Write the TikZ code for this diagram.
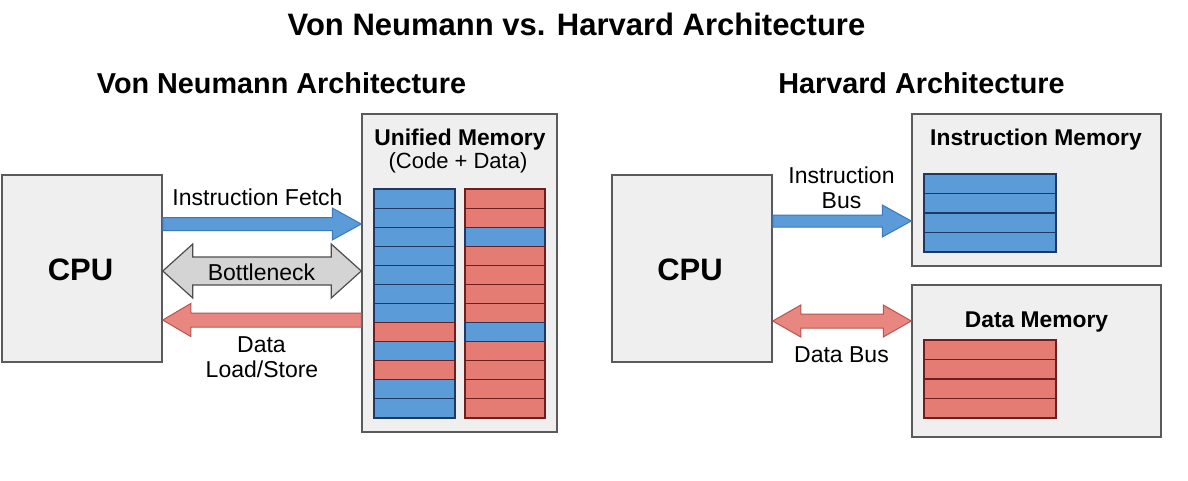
\documentclass[tikz,border=0pt]{standalone}
\usepackage{fontspec}
\setmainfont{Liberation Sans}
\usetikzlibrary{calc}
\definecolor{boxfill}{HTML}{EFEFEF}
\definecolor{boxline}{HTML}{5A5A5A}
\definecolor{memB}{HTML}{5B9BD8}
\definecolor{memBd}{HTML}{1F3864}
\definecolor{memR}{HTML}{E47C74}
\definecolor{memRd}{HTML}{6E1E1E}
\definecolor{arrB}{HTML}{5B9BD8}
\definecolor{arrBd}{HTML}{3C78C0}
\definecolor{arrR}{HTML}{E8877F}
\definecolor{arrRd}{HTML}{B85450}
\definecolor{arrG}{HTML}{D4D4D4}
\definecolor{arrGd}{HTML}{4D4D4D}
\newcommand\fatarrow[7]{% style, from, to, shaft half, head half, head len, dir
  \draw[#1] let \p1=(#2), \p2=(#3), \n1={#7*#6} in
   ({\x1},{\y1+#4}) -- ({\x2-\n1},{\y1+#4}) -- ({\x2-\n1},{\y1+#5}) -- ({\x2},{\y1})
   -- ({\x2-\n1},{\y1-#5}) -- ({\x2-\n1},{\y1-#4}) -- ({\x1},{\y1-#4}) -- cycle;}
\newcommand\dblarrow[6]{% style, from(left), to(right), shaft half, head half, head len
  \draw[#1] let \p1=(#2), \p2=(#3) in
   ({\x1},{\y1}) -- ({\x1+#6},{\y1+#5}) -- ({\x1+#6},{\y1+#4}) -- ({\x2-#6},{\y1+#4}) -- ({\x2-#6},{\y1+#5})
   -- ({\x2},{\y1}) -- ({\x2-#6},{\y1-#5}) -- ({\x2-#6},{\y1-#4}) -- ({\x1+#6},{\y1-#4}) -- ({\x1+#6},{\y1-#5}) -- cycle;}
\begin{document}
\begin{tikzpicture}[x=1pt,y=-1pt,
  box/.style={draw=boxline, fill=boxfill, line width=1.5pt, inner sep=0pt},
  txt/.style={anchor=base, inner sep=0pt, font=\fontsize{23}{27}\selectfont},
  btxt/.style={anchor=base, inner sep=0pt, font=\bfseries\fontsize{22.8}{27}\selectfont},
  cell/.style={line width=1.1pt},
  barrow/.style={fill=arrB, draw=arrBd, line width=1pt},
  rarrow/.style={fill=arrR, draw=arrRd, line width=1pt},
  garrow/.style={fill=arrG, draw=arrGd, line width=1.2pt}]
\fill[white] (0,0) rectangle (1188,480);
\useasboundingbox (0,0) rectangle (1188,480);

% titles
\node[anchor=base, inner sep=0pt, font=\bfseries\fontsize{31}{36}\selectfont] (title) at (576.5,35) {Von Neumann vs. Harvard Architecture};
\node[anchor=base, inner sep=0pt, font=\bfseries\fontsize{28.8}{34}\selectfont] (vnt) at (281.5,93) {Von Neumann Architecture};
\node[anchor=base, inner sep=0pt, font=\bfseries\fontsize{28.8}{34}\selectfont] (hvt) at (921.5,93) {Harvard Architecture};

% ---------- Von Neumann ----------
\node[box, minimum width=160pt, minimum height=187pt] (cpu1) at (82,268.5) {};
\node[anchor=base, inner sep=0pt, font=\bfseries\fontsize{31}{36}\selectfont] (cpu1t) at (80.5,280) {CPU};
\node[box, minimum width=195pt, minimum height=318pt] (umem) at (459.5,273) {};
\node[btxt] (umemt) at (460,145) {Unified Memory};
\node[txt, font=\fontsize{22}{26}\selectfont] (umems) at (458,168) {(Code + Data)};

\foreach \f/\d [count=\i from 0] in {memB/memBd,memB/memBd,memB/memBd,memB/memBd,memB/memBd,memB/memBd,memB/memBd,memR/memRd,memB/memBd,memR/memRd,memB/memBd,memB/memBd}
  \draw[cell, fill=\f, draw=\d] (374,{189+\i*19.08}) rectangle (455,{189+(\i+1)*19.08});
\foreach \f/\d [count=\i from 0] in {memR/memRd,memR/memRd,memB/memBd,memR/memRd,memR/memRd,memR/memRd,memR/memRd,memB/memBd,memR/memRd,memR/memRd,memR/memRd,memR/memRd}
  \draw[cell, fill=\f, draw=\d] (465,{189+\i*19.08}) rectangle (545,{189+(\i+1)*19.08});

\coordinate (yIF) at (0,224);
\coordinate (yBN) at (0,271);
\coordinate (yDL) at (0,320);
\fatarrow{barrow}{cpu1.east |- yIF}{umem.west |- yIF}{6.5}{16}{29}{1}
\dblarrow{garrow}{cpu1.east |- yBN}{umem.west |- yBN}{14}{27}{30}
\fatarrow{rarrow}{umem.west |- yDL}{cpu1.east |- yDL}{7}{16.5}{28}{-1}
\node[txt] (lif) at (257.5,205) {Instruction Fetch};
\node[txt] (lbn) at (261.5,280) {Bottleneck};
\node[txt] (ldl1) at (261.5,352) {Data};
\node[txt] (ldl2) at (262,377) {Load/Store};

% ---------- Harvard ----------
\node[box, minimum width=160pt, minimum height=187pt] (cpu2) at (692,268.5) {};
\node[anchor=base, inner sep=0pt, font=\bfseries\fontsize{31}{36}\selectfont] (cpu2t) at (690,280) {CPU};
\node[box, minimum width=249pt, minimum height=152pt] (imem) at (1036.5,190) {};
\node[box, minimum width=249pt, minimum height=152pt] (dmem) at (1036.5,361) {};
\node[btxt] (imemt) at (1036,145) {Instruction Memory};
\node[btxt] (dmemt) at (1036.5,327) {Data Memory};
\foreach \i in {0,...,3}
  \draw[cell, fill=memB, draw=memBd] (924,{174+\i*19.5}) rectangle (1056,{174+(\i+1)*19.5});
\foreach \i in {0,...,3}
  \draw[cell, fill=memR, draw=memRd] (924,{340+\i*19.5}) rectangle (1056,{340+(\i+1)*19.5});

\coordinate (yIB) at (0,221);
\coordinate (yDB) at (0,321);
\fatarrow{barrow}{cpu2.east |- yIB}{imem.west |- yIB}{6}{16}{29}{1}
\dblarrow{rarrow}{cpu2.east |- yDB}{dmem.west |- yDB}{7}{16}{28}
\node[txt] (lib1) at (841.5,183) {Instruction};
\node[txt] (lib2) at (841.5,208) {Bus};
\node[txt] (ldb) at (841.5,362) {Data Bus};
\end{tikzpicture}
\end{document}
